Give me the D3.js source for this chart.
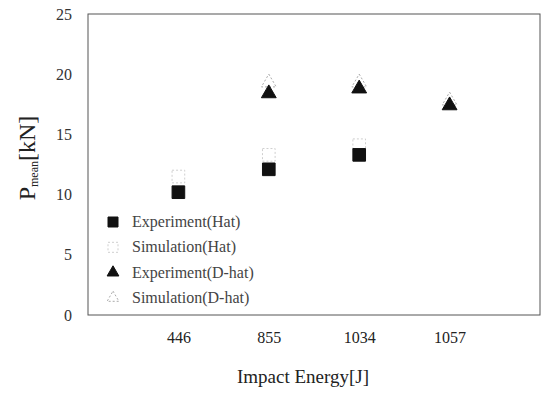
<!DOCTYPE html>
<html>
<head>
<meta charset="utf-8">
<script src="https://cdn.jsdelivr.net/npm/d3@7"></script>
<style>
  body { margin: 0; background: #fff; }
  svg { font-family: "Liberation Serif", "DejaVu Serif", serif; }
</style>
</head>
<body>
<div id="chart"></div>
<script>
// categories (impact energy, J)
const energies = ["446", "855", "1034", "1057"];
const yTicks = [0, 5, 10, 15, 20, 25];

// mean crush force, kN (null = no point)
const expHat = [10.2, 12.1, 13.3, null];
const simHat = [11.5, 13.3, 14.1, null];
const expDHat = [null, 18.4, 18.8, 17.4];
const simDHat = [null, 19.3, 19.3, 17.8];

const width = 544, height = 394;
const margin = { top: 14, right: 4, bottom: 79, left: 88 };

const svg = d3.select("#chart").append("svg")
  .attr("width", width)
  .attr("height", height);

const x = d3.scalePoint()
  .domain(energies)
  .range([margin.left, width - margin.right])
  .padding(1);

const y = d3.scaleLinear()
  .domain([0, 25])
  .range([height - margin.bottom, margin.top]);

// frame
svg.append("rect")
  .attr("x", margin.left)
  .attr("y", margin.top)
  .attr("width", width - margin.left - margin.right)
  .attr("height", height - margin.top - margin.bottom)
  .attr("fill", "none")
  .attr("stroke", "#555")
  .attr("stroke-width", 1);

// y axis labels
const yAxis = svg.append("g")
  .attr("transform", `translate(${margin.left - 16},0)`)
  .call(d3.axisLeft(y).tickValues(yTicks).tickSize(0).tickPadding(0));
yAxis.select(".domain").remove();
yAxis.selectAll("text")
  .attr("font-family", "Liberation Serif, serif")
  .attr("font-size", 16)
  .attr("fill", "#333");

// x axis labels
const xAxis = svg.append("g")
  .attr("transform", `translate(0,${height - margin.bottom + 17})`)
  .call(d3.axisBottom(x).tickSize(0).tickPadding(0));
xAxis.select(".domain").remove();
xAxis.selectAll("text")
  .attr("font-family", "Liberation Serif, serif")
  .attr("font-size", 16)
  .attr("fill", "#222");

// axis titles
svg.append("text")
  .attr("x", 303)
  .attr("y", 383)
  .attr("text-anchor", "middle")
  .attr("font-size", 19)
  .attr("fill", "#222")
  .text("Impact Energy[J]");

const yl = svg.append("text")
  .attr("transform", "translate(35,158) rotate(-90)")
  .attr("text-anchor", "middle")
  .attr("font-size", 24)
  .attr("fill", "#222");
yl.append("tspan").text("P");
yl.append("tspan").attr("font-size", 12).attr("dy", 3).text("mean");
yl.append("tspan").attr("dy", -3).text("[kN]");

// symbols
const sq = d3.symbol().type(d3.symbolSquare).size(160);
const tri = d3.symbol().type(d3.symbolTriangle).size(95);

const series = [
  { name: "Experiment(Hat)", data: expHat, sym: sq, leg: d3.symbolSquare, legSize: 100, fill: "#111", stroke: "#111", dash: null },
  { name: "Simulation(Hat)", data: simHat, sym: sq, leg: d3.symbolSquare, legSize: 100, fill: "none", stroke: "#cfcfcf", dash: "2,2" },
  { name: "Experiment(D-hat)", data: expDHat, sym: tri, leg: d3.symbolTriangle, legSize: 60, fill: "#111", stroke: "#111", dash: null },
  { name: "Simulation(D-hat)", data: simDHat, sym: tri, leg: d3.symbolTriangle, legSize: 60, fill: "none", stroke: "#aaa", dash: "2,2" }
];

const drawOrder = [1, 3, 0, 2];
drawOrder.forEach(i => {
  const s = series[i];
  svg.append("g").selectAll("path")
    .data(s.data.map((v, j) => ({ cat: energies[j], v })).filter(d => d.v != null))
    .enter()
    .append("path")
    .attr("d", s.sym)
    .attr("transform", d => `translate(${x(d.cat)},${y(d.v)})`)
    .attr("fill", s.fill)
    .attr("stroke", s.stroke)
    .attr("stroke-width", 1)
    .attr("stroke-dasharray", s.dash);
});

// legend
const legend = svg.append("g").attr("transform", "translate(113,222)");
series.forEach((s, i) => {
  const row = legend.append("g").attr("transform", `translate(0,${i * 25.3})`);
  row.append("path")
    .attr("d", d3.symbol().type(s.leg).size(s.legSize)())
    .attr("fill", s.fill)
    .attr("stroke", s.stroke)
    .attr("stroke-dasharray", s.dash);
  row.append("text")
    .attr("x", 19)
    .attr("y", 5)
    .attr("font-size", 16)
    .attr("fill", "#444")
    .text(s.name);
});
</script>
</body>
</html>
